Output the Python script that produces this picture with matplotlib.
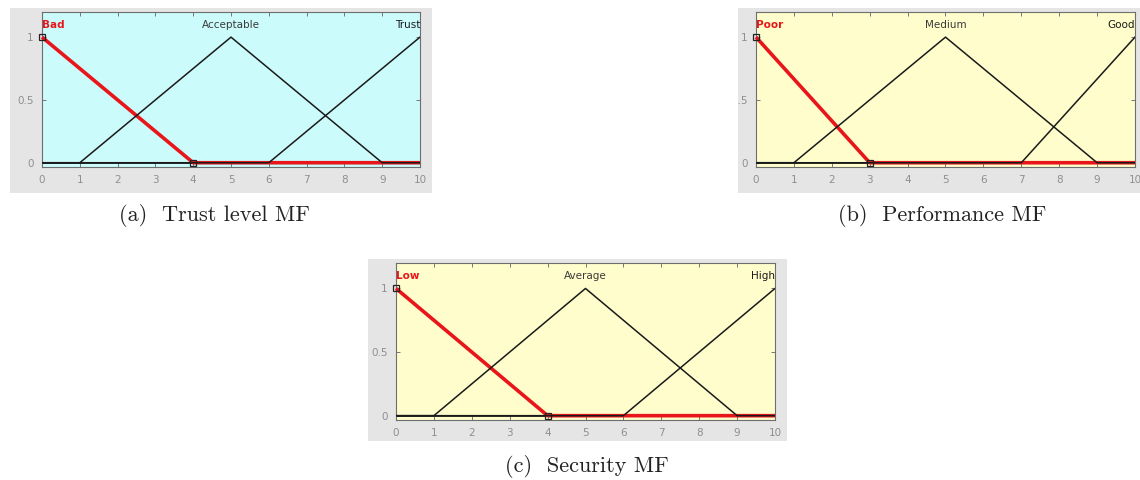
import matplotlib.pyplot as plt
from matplotlib.patches import Rectangle

# membership function vertices (x, y) for each input variable
trust_names = ["Bad", "Acceptable", "Trust"]
trust_x = [[0, 4, 10], [0, 1, 5, 9, 10], [0, 6, 10]]
trust_y = [[1, 0, 0], [0, 0, 1, 0, 0], [0, 0, 1]]

perf_names = ["Poor", "Medium", "Good"]
perf_x = [[0, 3, 10], [0, 1, 5, 9, 10], [0, 7, 10]]
perf_y = [[1, 0, 0], [0, 0, 1, 0, 0], [0, 0, 1]]

sec_names = ["Low", "Average", "High"]
sec_x = [[0, 4, 10], [0, 1, 5, 9, 10], [0, 6, 10]]
sec_y = [[1, 0, 0], [0, 0, 1, 0, 0], [0, 0, 1]]

captions = ["(a)  Trust level MF", "(b)  Performance MF", "(c)  Security MF"]
xticks = list(range(11))
yticks = [0, 0.5, 1]
ytick_labels = ["0", "0.5", "1"]

W, H = 1140, 480
fig = plt.figure(figsize=(W / 100, H / 100), dpi=100)


def fbox(l, t, r, b):
    return [l / W, 1 - b / H, (r - l) / W, (b - t) / H]


def panel(ax_px, gray_px, names, xs, ys, bg):
    gl, gt, gr, gb = gray_px
    fig.patches.append(Rectangle((gl / W, 1 - gb / H), (gr - gl) / W, (gb - gt) / H,
                                 transform=fig.transFigure, facecolor="#e5e5e5",
                                 edgecolor="none", zorder=-5))
    ax = fig.add_axes(fbox(*ax_px))
    ax.set_facecolor(bg)
    ax.set_xlim(0, 10)
    ax.set_ylim(-0.034, 1.2)
    ax.set_xticks(xticks)
    ax.set_yticks(yticks)
    ax.set_yticklabels(ytick_labels)
    ax.tick_params(direction="in", length=3, width=0.7, color="#777777",
                   labelcolor="#8f8f8f", labelsize=7.5, top=True, right=True, pad=6)
    for s in ax.spines.values():
        s.set_color("#6e6e6e")
        s.set_linewidth(0.8)
    # baseline
    ax.plot([0, 10], [0, 0], color="black", lw=1.1, zorder=2)
    # selected MF in red
    ax.plot(xs[0], ys[0], color="#e8161b", lw=2.6, zorder=3, solid_capstyle="butt",
            marker="s", markevery=[0, 1], ms=4, mfc="none", mec="#222222", mew=0.9,
            clip_on=False)
    for x, y in zip(xs[1:], ys[1:]):
        ax.plot(x, y, color="#1a1a1a", lw=1.1, zorder=4)
    ax.text(0, 1.095, names[0], color="#e8161b", fontweight="bold", fontsize=7.5,
            ha="left", va="center")
    ax.text(5, 1.095, names[1], color="#3a3a3a", fontsize=7.5, ha="center", va="center")
    ax.text(10, 1.095, names[2], color="#1a1a1a", fontsize=7.5, ha="right", va="center")
    return ax


panel((42, 12, 420, 167), (10, 8, 432, 193), trust_names, trust_x, trust_y, "#cbfbfb")
panel((756, 12, 1135, 167), (738, 8, 1140, 193), perf_names, perf_x, perf_y, "#fefdcb")
panel((396, 263, 775, 420), (368, 259, 787, 441), sec_names, sec_x, sec_y, "#fefdcb")

# clip the (b) panel tick labels at its gray border, as in the screenshot
fig.patches.append(Rectangle((700 / W, 0.5), 38 / W, 0.5, transform=fig.transFigure,
                             facecolor="white", edgecolor="none", zorder=10))

cap_pos = [(214, 215), (942, 215), (587, 466)]
for cap, (cx, cy) in zip(captions, cap_pos):
    fig.text(cx / W, 1 - cy / H, cap, family="cmr10", fontsize=16,
             ha="center", va="center", color="#222222")

fig.savefig("out.png", dpi=100, facecolor="white")
